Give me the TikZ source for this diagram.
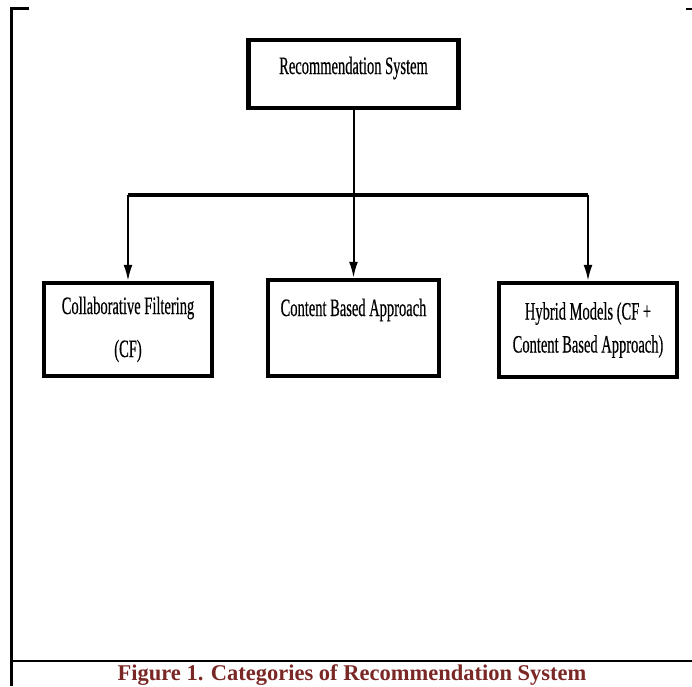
\documentclass[tikz,border=0pt]{standalone}
\usepackage{fontspec}
\setmainfont{Liberation Serif}
\newfontfamily\boxfont[FakeStretch=0.58, FakeBold=0.4]{Liberation Serif}
\usetikzlibrary{positioning, calc, arrows.meta}
\definecolor{capred}{RGB}{122,40,38}

\begin{document}
\begin{tikzpicture}[x=1pt, y=-1pt, box/.style={rectangle, draw, line width=4.5pt,
    fill=white, align=center, inner sep=0pt,
    font=\boxfont\fontsize{25}{30}\selectfont}, link/.style={line width=2pt},
  >={Latex[length=16pt,width=9pt]}]

  \useasboundingbox (0,0) rectangle (692,686);
  \draw[line width=2.5pt] (29,8.5) -- (11.5,8.5) -- (11.5,686);
  \draw[line width=2.5pt] (686,9) -- (692,9);
  \draw[line width=2pt] (11.5,661) -- (692,661);

  \node[box, minimum width=210pt, minimum height=68pt, text height=13pt,
    text depth=13pt] (rec) at (353.5,74) {Recommendation System};
  \node[box, minimum width=168pt, minimum height=93pt] (cf) at (128,329.5)
    {Collaborative Filtering\\[13pt](CF)};
  \node[box, minimum width=171pt, minimum height=96pt, text height=13pt,
    text depth=37pt] (cb) at (353.5,328) {Content Based Approach};
  \node[box, minimum width=178pt, minimum height=94pt] (hy) at (588,330)
    {Hybrid Models (CF +\\[3pt]Content Based Approach)};

  \coordinate (fork) at (rec.south |- 0,195);
  \draw[link] (rec) -- (fork);
  \draw[line width=4pt] (cf.north |- fork) -- (hy.north |- fork);
  \draw[link,->] (cf.north |- fork) -- (cf.north);
  \draw[link,->] (fork) -- (cb.north);
  \draw[link,->] (hy.north |- fork) -- (hy.north);

  \node[font=\bfseries\fontsize{22.5}{26}\selectfont, text=capred] (caption)
    at (352,675.5) {Figure 1. Categories of Recommendation System};
\end{tikzpicture}
\end{document}
